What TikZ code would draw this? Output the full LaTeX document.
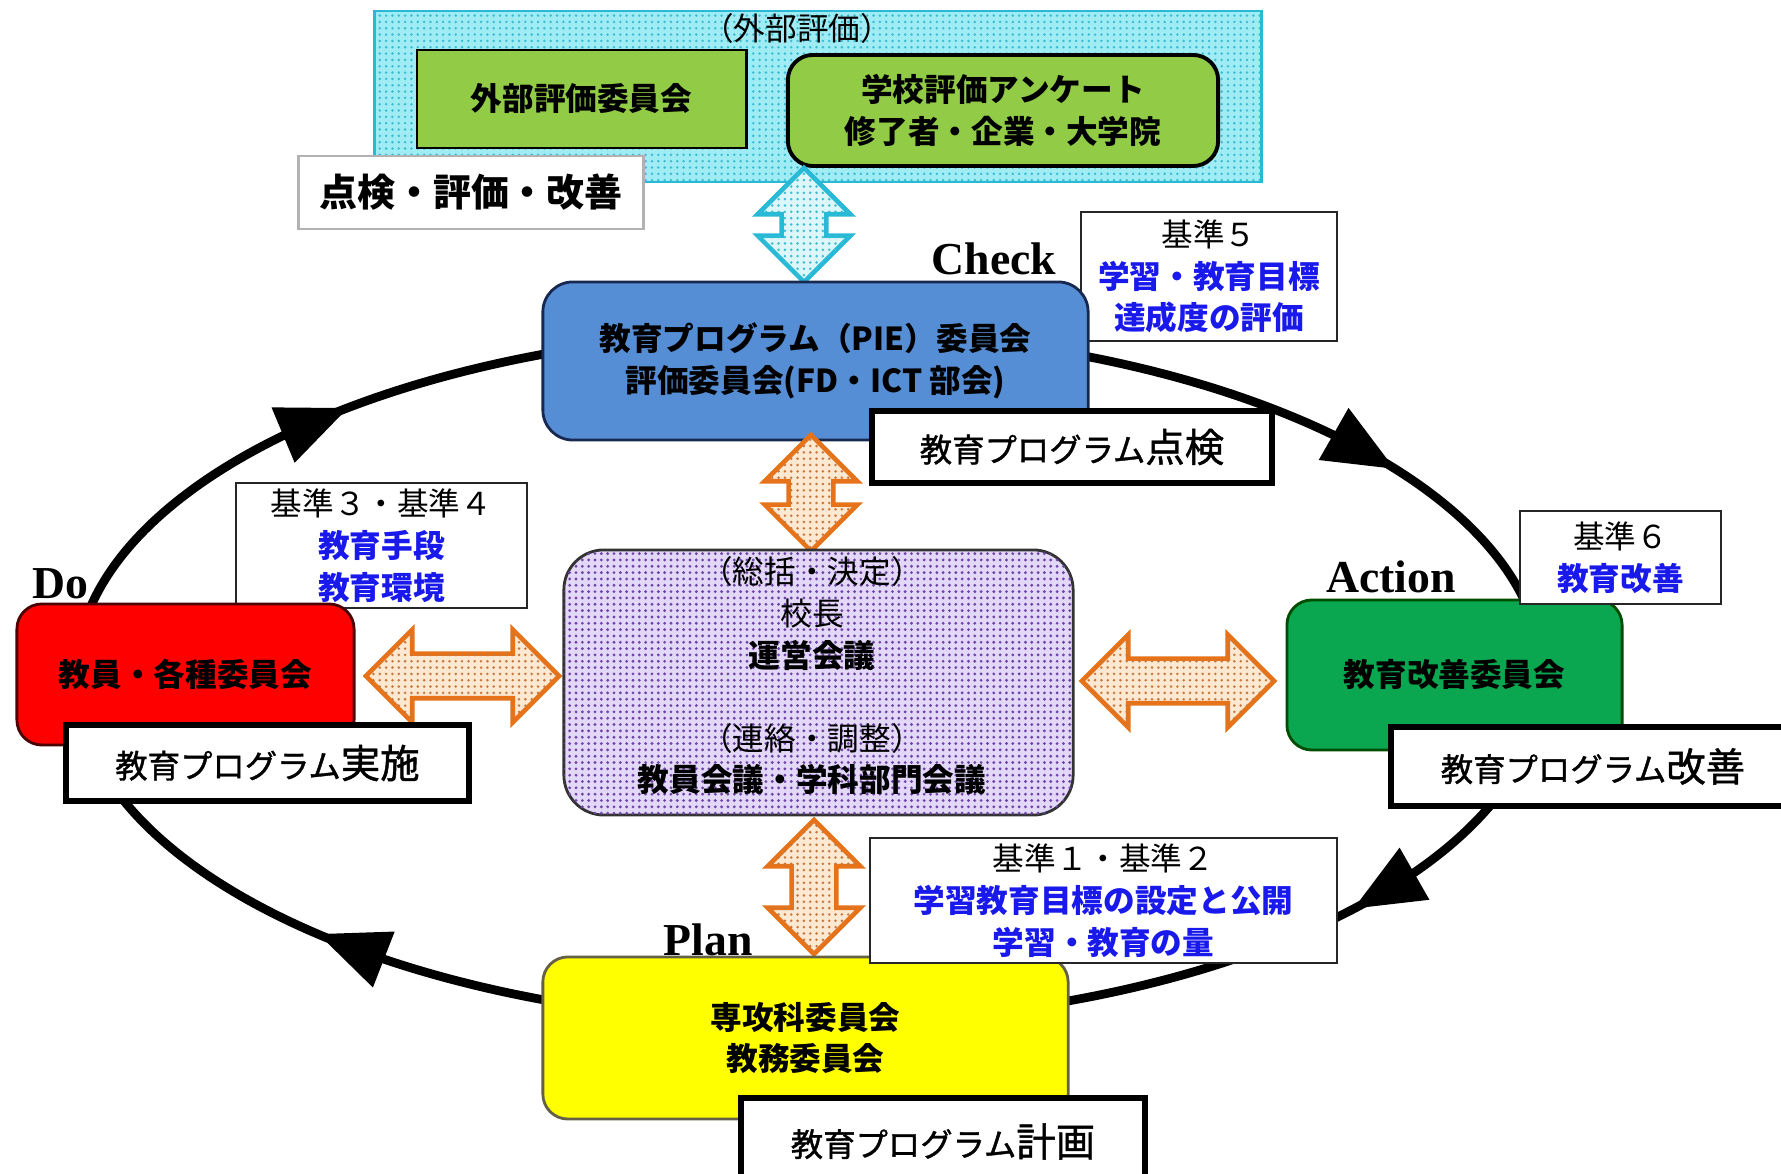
\documentclass[tikz,border=0pt]{standalone}
\usepackage{fontspec}
\setmainfont{Noto Sans CJK JP}
\newfontfamily\tmsfont{Liberation Serif}
\usetikzlibrary{calc,shapes.arrows,patterns.meta}
\definecolor{cyanfill}{RGB}{160,236,245}
\definecolor{cyandot}{RGB}{60,190,210}
\definecolor{cyanB}{RGB}{40,185,215}
\definecolor{lgreen}{RGB}{146,204,70}
\definecolor{bluefill}{RGB}{85,142,213}
\definecolor{navyB}{RGB}{25,40,80}
\definecolor{redfill}{RGB}{255,0,0}
\definecolor{greenfill}{RGB}{10,166,80}
\definecolor{yellowfill}{RGB}{255,255,0}
\definecolor{lav}{RGB}{228,216,248}
\definecolor{lavdot}{RGB}{110,70,170}
\definecolor{peach}{RGB}{253,232,210}
\definecolor{peachdot}{RGB}{200,120,60}
\definecolor{orangeB}{RGB}{230,115,25}
\definecolor{kblue}{RGB}{25,25,235}
\definecolor{lcyan}{RGB}{220,246,250}
\newcommand{\plab}[1]{{\addfontfeature{FakeBold=1.2}{\fontsize{9.2}{11}\selectfont 教育プログラム}{\fontsize{11.2}{13}\selectfont #1}}}
\newcommand{\kb}[1]{\textcolor{kblue}{\bfseries #1}}
\begin{document}
\begin{tikzpicture}[x=0.01cm,y=-0.01cm,
  jp/.style={font=\fontsize{9}{11.9}\selectfont, inner sep=0pt},
  jpb/.style={font=\bfseries\fontsize{9}{11.9}\selectfont, inner sep=0pt},
  panel/.style={draw, line width=0.8pt, inner sep=0pt, align=center, font=\bfseries\fontsize{9}{11.8}\selectfont},
  lblbox/.style={draw=black, line width=1.5pt, fill=white, inner sep=0pt},
  kbox/.style={draw=black!85, line width=0.7pt, fill=white, inner sep=0pt, align=center, font=\fontsize{9}{11.9}\selectfont},
  pdca/.style={font=\tmsfont\bfseries\fontsize{13}{15}\selectfont, inner sep=0pt},
  darr/.style={double arrow, line width=1.3pt, inner xsep=0pt, inner ysep=0.2cm,
     double arrow head extend=0.24cm},
  oarrow/.style={darr, draw=orangeB, fill=peach,
     postaction={pattern={Dots[distance=1.8pt,radius=0.4pt]}, pattern color=peachdot}},
  carrow/.style={darr, draw=cyanB, fill=lcyan,
     postaction={pattern={Dots[distance=1.8pt,radius=0.4pt]}, pattern color=cyandot}}
]
\useasboundingbox[fill=white] (0,0) rectangle (1781,1174);

% PDCA cycle
\draw[line width=2.5pt] (809,677) ellipse [x radius=7.33cm, y radius=3.46cm];

% external evaluation
\node[draw=cyanB, line width=0.8pt, fill=cyanfill, inner sep=0pt,
      postaction={pattern={Dots[distance=1.8pt,radius=0.4pt]}, pattern color=cyandot},
      minimum width=8.86cm, minimum height=1.71cm] (ext) at (818,96.5) {};
\node[jp] (extlbl) at (797,28) {（外部評価）};
\node[panel, fill=lgreen, minimum width=3.29cm, minimum height=0.98cm] (extcomm) at (581.5,99) {外部評価委員会};
\node[panel, fill=lgreen, rounded corners=0.25cm, line width=1.1pt, minimum width=4.30cm, minimum height=1.11cm] (survey) at (1003,110.5) {学校評価アンケート\\修了者・企業・大学院};
\node[draw=gray!60, line width=0.8pt, fill=white, inner sep=0pt, minimum width=3.44cm, minimum height=0.73cm,
      font=\bfseries\fontsize{10.8}{13}\selectfont] (pdcatitle) at (471,192.5) {点検・評価・改善};
\node[carrow, rotate=90, minimum height=1.14cm] (cyarr) at (804,225) {};

% Check
\node[pdca] (check) at (994,259) {Check};
\node[kbox, minimum width=2.56cm, minimum height=1.29cm] (k5) at (1209,276.5) {基準５\\\kb{学習・教育目標}\\\kb{達成度の評価}};
\node[panel, fill=bluefill, draw=navyB, rounded corners=0.3cm, minimum width=5.45cm, minimum height=1.58cm] (pie) at (815.5,361) {教育プログラム（PIE）委員会\\評価委員会(FD・ICT 部会)};
\node[lblbox, minimum width=4.00cm, minimum height=0.72cm] (tenken) at (1072,447) {\plab{点検}};

% center hub
\node[oarrow, rotate=90, minimum height=1.16cm] (oa1) at (811,493) {};
\node[oarrow, rotate=90, minimum height=1.34cm] (oa2) at (814,887) {};
\node[oarrow, minimum height=1.93cm] (oa3) at (462.5,676) {};
\node[oarrow, minimum height=1.92cm] (oa4) at (1178,681) {};
\node[draw=black!80, line width=0.8pt, rounded corners=0.4cm, fill=lav, inner sep=0pt,
      postaction={pattern={Dots[distance=1.8pt,radius=0.45pt]}, pattern color=lavdot},
      minimum width=5.09cm, minimum height=2.65cm] (hub) at (818.5,682.5) {};
\node[jp] (h1) at (812,571) {（総括・決定）};
\node[jp] (h2) at (812,614) {校長};
\node[jpb] (h3) at (812,655) {運営会議};
\node[jp] (h4) at (812,738) {（連絡・調整）};
\node[jpb] (h5) at (812,779) {教員会議・学科部門会議};

% Do
\node[kbox, minimum width=2.91cm, minimum height=1.25cm] (k34) at (381.5,545.5) {基準３・基準４\\\kb{教育手段}\\\kb{教育環境}};
\node[pdca] (do) at (60,584) {Do};
\node[panel, fill=redfill, draw=black!70!red, rounded corners=0.25cm, minimum width=3.37cm, minimum height=1.41cm] (red) at (185.5,674.5) {教員・各種委員会};
\node[lblbox, minimum width=4.03cm, minimum height=0.76cm] (jisshi) at (267.5,763) {\plab{実施}};

% Action
\node[pdca] (action) at (1391,577) {Action};
\node[panel, fill=greenfill, draw=black!70!green, rounded corners=0.25cm, minimum width=3.35cm, minimum height=1.50cm] (green) at (1454.5,675) {教育改善委員会};
\node[kbox, minimum width=2.01cm, minimum height=0.93cm] (k6) at (1620.5,557.5) {基準６\\\kb{教育改善}};
\node[lblbox, minimum width=4.04cm, minimum height=0.79cm] (kaizen) at (1593,766.5) {\plab{改善}};

% Plan
\node[pdca] (plan) at (708,940) {Plan};
\node[panel, fill=yellowfill, draw=black!70!yellow, rounded corners=0.25cm, minimum width=5.25cm, minimum height=1.62cm] (yellow) at (805.5,1038) {専攻科委員会\\教務委員会};
\node[kbox, minimum width=4.67cm, minimum height=1.25cm] (k12) at (1103.5,900.5) {基準１・基準２\\\kb{学習教育目標の設定と公開}\\\kb{学習・教育の量}};
\node[lblbox, minimum width=4.04cm, minimum height=0.87cm] (keikaku) at (943,1141.5) {\plab{計画}};

% arrowheads on the cycle
\foreach \t in {231,323,42,132}{
  \path ({809+733*cos(\t)},{677+346*sin(\t)}) coordinate (tip)
        ({809+733*cos(\t-5)},{677+346*sin(\t-5)}) coordinate (bk);
  \path ($(tip)!0.7cm!(bk)$) coordinate (bc);
  \fill ($(bc)!0.3cm!90:(tip)$) -- (tip) -- ($(bc)!0.3cm!-90:(tip)$) -- cycle;
}
\end{tikzpicture}
\end{document}
